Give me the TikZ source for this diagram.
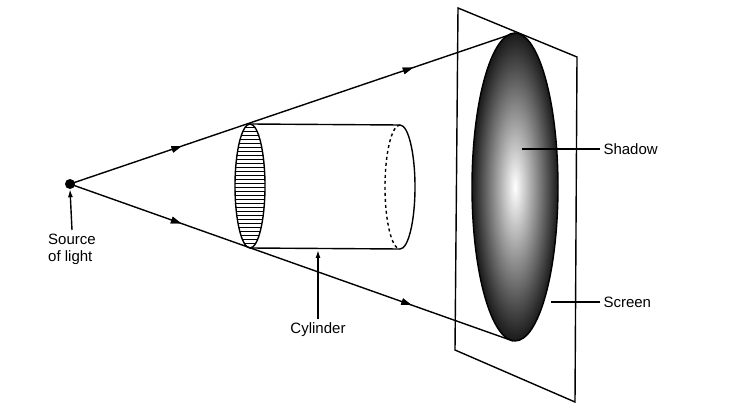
\documentclass[tikz,border=0pt]{standalone}
\usepackage{fontspec}
\setmainfont{Liberation Sans}
\usetikzlibrary{decorations.markings,arrows.meta}
\tikzset{
  midtip/.style={decoration={markings,mark=at position #1 with {\fill (-5,-3.5) -- (5,0) -- (-5,3.5) -- cycle;}},postaction={decorate}},
  ray/.style={line width=1.4pt,midtip=0.24,midtip=0.76},
  lbl/.style={font=\fontsize{15}{17}\selectfont,align=left},
  edge/.style={line width=1.4pt}
}
\begin{document}
\begin{tikzpicture}[x=1pt,y=-1pt,>={Latex[length=8pt,width=5pt]}]
    \useasboundingbox (0,0) rectangle (733,419);
    % screen
    \draw[edge] (458,8) -- (577,57) -- (575,402) -- (455,350) -- cycle;
    \shade[inner color=white,middle color=gray!70,outer color=black!90] (515,187) ellipse [x radius=43,y radius=154];
    \draw[edge] (515,187) ellipse [x radius=43,y radius=154];
    % cylinder
    \begin{scope}
        \clip (250,186) ellipse [x radius=15,y radius=62];
        \foreach \yy in {124,128,...,250} \draw[line width=1pt] (230,\yy) -- (270,\yy);
    \end{scope}
    \draw[edge] (250,186) ellipse [x radius=15,y radius=62];
    \draw[edge] (250,124) -- (400,125);
    \draw[edge] (250,248) -- (400,249);
    \draw[edge] (400,125) arc [start angle=-90,end angle=90,x radius=15,y radius=62];
    \draw[edge,dashed] (400,125) arc [start angle=-90,end angle=-270,x radius=15,y radius=62];
    % source and rays
    \node[circle,fill,inner sep=0pt,minimum size=10pt] (src) at (70,184) {};
    \coordinate (top) at (515,33);
    \coordinate (bot) at (513,341);
    \draw[ray] (src.center) -- (top);
    \draw[ray] (src.center) -- (bot);
    % labels
    \node[lbl,anchor=north] (srclbl) at (72,230) {Source\\of light};
    \draw[->,edge] (srclbl.north) -- (src.south);
    \node[lbl] (cyl) at (318,330) {Cylinder};
    \coordinate (cylpt) at (318,250);
    \draw[->,edge] (cyl.north) -- (cylpt);
    \node[lbl,anchor=west] (shadow) at (600,149) {Shadow};
    \coordinate (shpt) at (522,149);
    \draw[edge] (shadow.west) -- (shpt);
    \node[lbl,anchor=west] (screen) at (600,302) {Screen};
    \coordinate (scpt) at (551,302);
    \draw[edge] (screen.west) -- (scpt);
\end{tikzpicture}
\end{document}
